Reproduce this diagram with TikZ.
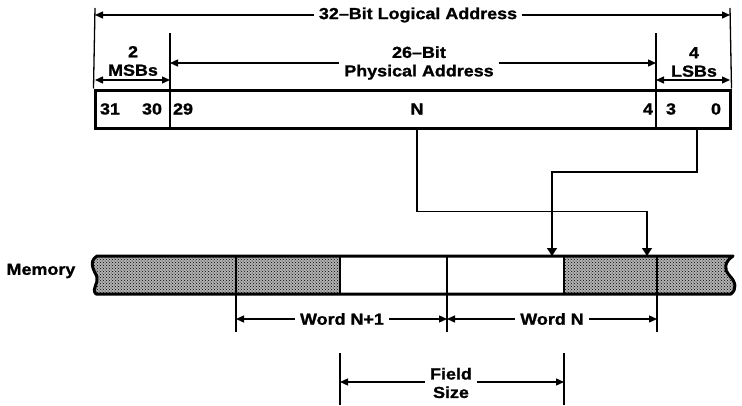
\documentclass[tikz,border=0pt]{standalone}
\usepackage{fontspec}
\newfontfamily\lbl{Liberation Sans}[FakeStretch=1.12, BoldFeatures={FakeBold=1.2}]
\usetikzlibrary{arrows.meta,patterns}
\begin{document}
\begin{tikzpicture}[x=1pt,y=-1pt,
  txt/.style={font=\lbl\bfseries\fontsize{16}{18.5}\selectfont, inner sep=0pt, align=center},
  gap/.style={txt, inner xsep=5pt},
  thinln/.style={line width=1.3pt},
  dimarrow/.style={thinln, -{Triangle[length=8pt,width=7pt]}},
  twoway/.style={thinln, {Triangle[length=8pt,width=7pt]}-{Triangle[length=8pt,width=7pt]}},
  heavy/.style={line width=3pt},
  flow/.style={thinln, -{Triangle[length=8pt,width=10pt]}},
  stipple/.style={pattern=crosshatch dots, pattern color=black}]
\useasboundingbox (0,0) rectangle (742,405);

% ---------- register ----------
\node[heavy, draw, minimum width=635pt, minimum height=38pt, inner sep=0pt] (reg) at (412.5,109) {};
\coordinate (d1) at (170,33);
\coordinate (d2) at (656,33);
\draw[thinln] (d1) -- (d1 |- reg.south);
\draw[thinln] (d2) -- (d2 |- reg.south);
\coordinate (tl) at (95,8);
\coordinate (tr) at (730,8);
\draw[thinln] (tl) -- (reg.north west);
\draw[thinln] (tr) -- (reg.north east);

\node[txt] (b31) at (110,109) {31};
\node[txt] (b30) at (152,109) {30};
\node[txt] (b29) at (183,109) {29};
\node[txt] (bN)  at (417,109) {N};
\node[txt] (b4)  at (648,109) {4};
\node[txt] (b3)  at (671,109) {3};
\node[txt] (b0)  at (716,109) {0};

% ---------- top dimensions ----------
\coordinate (al) at (95,15);
\coordinate (ar) at (730,15);
\node[gap] (logical) at (418,15) {32–Bit Logical Address};
\draw[dimarrow] (logical.west) -- (al);
\draw[dimarrow] (logical.east) -- (ar);

\coordinate (pl) at (170,63);
\coordinate (pr) at (656,63);
\node[gap] (phys) at (419,63) {26–Bit\\Physical Address};
\draw[dimarrow] (phys.west |- pl) -- (pl);
\draw[dimarrow] (phys.east |- pr) -- (pr);

\coordinate (ml) at (95,80);
\coordinate (mr) at (170,80);
\draw[twoway] (ml) -- (mr);
\node[txt] (msb) at (133,61) {2\\MSBs};

\coordinate (ll) at (656,80);
\coordinate (lr) at (730,80);
\draw[twoway] (ll) -- (lr);
\node[txt] (lsb) at (694,62) {4\\LSBs};

% ---------- memory ----------
\node[txt] (memlabel) at (41,271) {Memory};
\path[stipple, preaction={fill=black!30}] (97,256) -- (733,256) .. controls (724,262) and (724,270) .. (729,275)
   .. controls (736,282) and (737,289) .. (731,294) -- (96,294)
   .. controls (91,289) and (99,283) .. (97,277) .. controls (94,270) and (88,262) .. (97,256) -- cycle;
\fill[white] (340,256) rectangle (564,294);
\draw[heavy, line join=round] (97,256) -- (733,256) .. controls (724,262) and (724,270) .. (729,275)
   .. controls (736,282) and (737,289) .. (731,294) -- (96,294)
   .. controls (91,289) and (99,283) .. (97,277) .. controls (94,270) and (88,262) .. (97,256) -- cycle;

\coordinate (m1t) at (236,256); \coordinate (m1b) at (236,332);
\coordinate (m2t) at (340,256); \coordinate (m2b) at (340,294);
\coordinate (m3t) at (447,256); \coordinate (m3b) at (447,332);
\coordinate (m4t) at (564,256); \coordinate (m4b) at (564,294);
\coordinate (m5t) at (657,256); \coordinate (m5b) at (657,332);
\draw[thinln] (m1t) -- (m1b);
\draw[thinln] (m2t) -- (m2b);
\draw[thinln] (m3t) -- (m3b);
\draw[thinln] (m4t) -- (m4b);
\draw[thinln] (m5t) -- (m5b);

% ---------- connectors from address to memory ----------
\coordinate (wN) at (647,256);
\coordinate (wB) at (552,256);
\coordinate (lsbtap) at (697,128);
\draw[flow] (bN |- reg.south) -- ++(0,82) -| (wN);
\draw[flow] (lsbtap) -- ++(0,44) -| (wB);

% ---------- word dimensions ----------
\coordinate (w1l) at (236,319);
\coordinate (w1r) at (447,319);
\coordinate (w2l) at (447,319);
\coordinate (w2r) at (657,319);
\node[gap] (wordn1) at (342,319) {Word N+1};
\node[gap] (wordn) at (552,319) {Word N};
\draw[dimarrow] (wordn1.west) -- (w1l);
\draw[dimarrow] (wordn1.east) -- (w1r);
\draw[dimarrow] (wordn.west) -- (w2l);
\draw[dimarrow] (wordn.east) -- (w2r);

% ---------- field size ----------
\coordinate (f1t) at (340,353); \coordinate (f1b) at (340,405);
\coordinate (f2t) at (564,353); \coordinate (f2b) at (564,405);
\draw[thinln] (f1t) -- (f1b);
\draw[thinln] (f2t) -- (f2b);
\coordinate (fl) at (340,382);
\coordinate (fr) at (564,382);
\node[gap] (field) at (451,383) {Field\\Size};
\draw[dimarrow] (field.west |- fl) -- (fl);
\draw[dimarrow] (field.east |- fr) -- (fr);
\end{tikzpicture}
\end{document}
